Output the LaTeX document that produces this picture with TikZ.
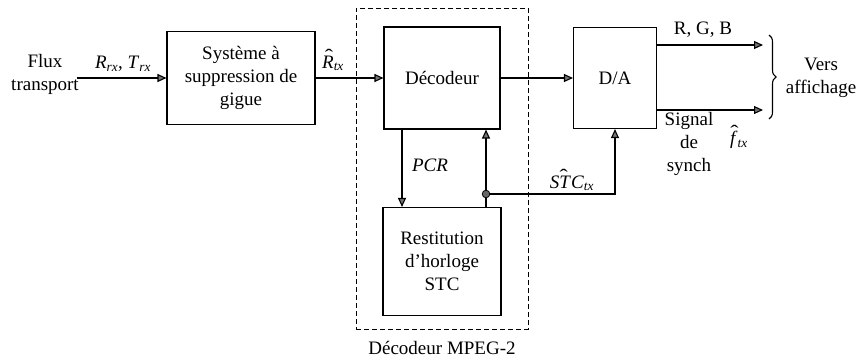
\documentclass[tikz,border=0pt]{standalone}
\usepackage{fontspec}
\setmainfont{Liberation Serif}
\usetikzlibrary{arrows.meta,decorations.pathreplacing}
\tikzset{
  blk/.style={draw, line width=1.1pt, inner sep=0pt, align=center},
  arr/.style={line width=1.1pt, -{Triangle[length=9pt,width=8pt,fill=black!55]}},
  ln/.style={line width=1.1pt},
  lbl/.style={inner sep=0pt, align=center},
}
\newcommand{\sub}[1]{\textsubscript{\textit{#1}}}
\newcommand{\hatover}[3]{% #1 raise, #2 shift, #3 letter
  \setbox0\hbox{\textit{#3}}%
  \hbox to \wd0{\hss\kern#2\raisebox{#1}{\scalebox{1.3}[1]{\char"02C6}}\hss}\kern-\wd0\box0}
\begin{document}
\begin{tikzpicture}[x=1pt,y=-1pt,font=\fontsize{19}{23}\selectfont]
\useasboundingbox (0,0) rectangle (858,358);
% MPEG-2 dashed frame
\node[draw, dash pattern=on 5pt off 3pt, line width=0.9pt, minimum width=172pt, minimum height=321pt, inner sep=0pt] (mpeg) at (442,168.5) {};
\node[lbl, anchor=base] (mpeglbl) at (442,354) {Décodeur MPEG-2};
% blocks
\node[blk, minimum width=148pt, minimum height=93pt] (jit) at (241,78) {Système à\\suppression de\\gigue};
\node[blk, minimum width=116pt, minimum height=102pt] (dec) at (442,78) {Décodeur};
\node[blk, minimum width=118pt, minimum height=108pt] (rest) at (442,261.5) {Restitution\\d’horloge\\STC};
\node[blk, minimum width=83pt, minimum height=101pt] (da) at (615,78) {D/A};
% coordinates
\coordinate (in) at (77,78);
\coordinate (out1) at (763,45);
\coordinate (out2) at (763,110);
\coordinate (dot) at (486,194);
% connectors
\draw[arr] (in) -- (jit.west);
\draw[arr] (jit.east) -- (dec.west);
\draw[arr] (dec.east) -- (da.west);
\draw[arr] (out1 -| da.east) -- (out1);
\draw[arr] (out2 -| da.east) -- (out2);
\draw[arr] ([xshift=-40pt]dec.south) -- ([xshift=-40pt]rest.north);
\draw[arr] ([xshift=44pt]rest.north) -- ([xshift=44pt]dec.south);
\draw[arr] (dot) -| (da.south);
\fill[black!60, draw=black, line width=0.8pt] (dot) circle (3.8pt);
% brace
\draw[ln, decorate, decoration={brace, amplitude=7pt}] (769,35) -- (769,119);
% labels
\node[lbl] (flux) at (45,74) {Flux\\transport};
\node[lbl] (rt) at (123,64) {\textit{R}\sub{rx}, \textit{T}\sub{rx}};
\node[lbl] (rhat) at (333,60) {\hatover{0.3em}{0.1em}{R}\sub{tx}};
\node[lbl] (pcr) at (430,165) {\textit{PCR}};
\node[lbl] (stc) at (572,180) {\textit{S}\hatover{0.3em}{-0.15em}{T}\textit{C}\sub{tx}};
\node[lbl] (rgb) at (703,30) {R, G, B};
\node[lbl] (sync) at (689,144) {Signal\\de\\synch};
\node[lbl] (fhat) at (739,137) {\hatover{0.32em}{0.05em}{f}\sub{tx}};
\node[lbl] (vers) at (821,78) {Vers\\affichage};
\end{tikzpicture}
\end{document}
